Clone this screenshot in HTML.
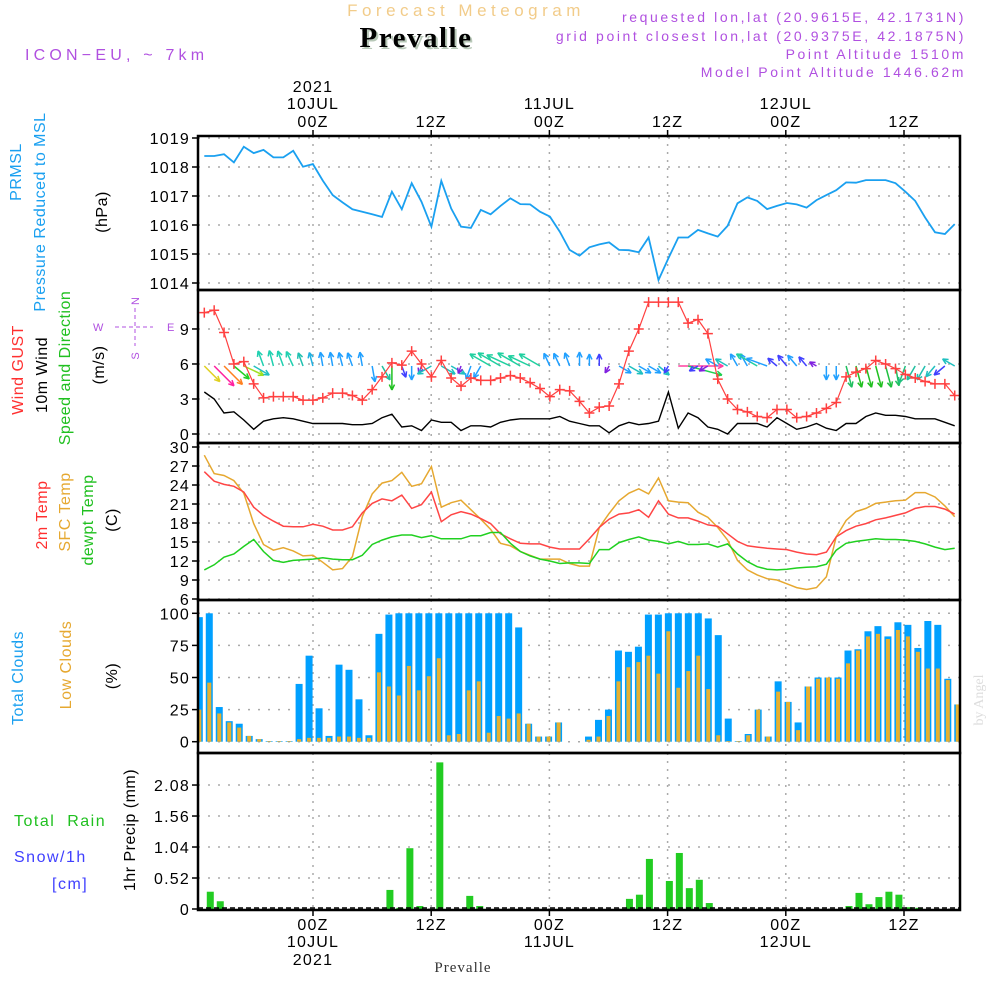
<!DOCTYPE html>
<html><head><meta charset="utf-8">
<style>
html,body{margin:0;padding:0;background:#fff;}
svg{display:block;font-family:"Liberation Sans",sans-serif;}
</style></head>
<body>
<svg id="chart" width="1000" height="1000" viewBox="0 0 1000 1000" xmlns="http://www.w3.org/2000/svg">
<rect width="1000" height="1000" fill="#fff"/>
<text x="466" y="16" text-anchor="middle" font-size="17" fill="#f2cc8a" letter-spacing="4.5">Forecast Meteogram</text>
<text x="418" y="49" text-anchor="middle" font-size="29" font-weight="bold" font-family="Liberation Serif,serif" fill="#b8c8b8" letter-spacing="1.5">Prevalle</text>
<text x="416" y="47" text-anchor="middle" font-size="29" font-weight="bold" font-family="Liberation Serif,serif" fill="#000" letter-spacing="1.5">Prevalle</text>
<text x="25" y="60" font-size="16" fill="#b050e0" letter-spacing="4.2">ICON−EU, ~ 7km</text>
<g font-size="14" fill="#b050e0" text-anchor="end" letter-spacing="2.6">
<text x="966" y="22">requested lon,lat (20.9615E, 42.1731N)</text>
<text x="966" y="41">grid point closest lon,lat (20.9375E, 42.1875N)</text>
<text x="966" y="59">Point Altitude 1510m</text>
<text x="966" y="77">Model Point Altitude 1446.62m</text>
</g>
<g font-size="16" letter-spacing="0.5">
<text transform="translate(21,172) rotate(-90)" text-anchor="middle" fill="#1aa0f0">PRMSL</text>
<text transform="translate(45,212) rotate(-90)" text-anchor="middle" fill="#1aa0f0">Pressure Reduced to MSL</text>
<text transform="translate(107,212) rotate(-90)" text-anchor="middle" fill="#000">(hPa)</text>
<text transform="translate(23,370) rotate(-90)" text-anchor="middle" fill="#ff3030">Wind GUST</text>
<text transform="translate(47,375) rotate(-90)" text-anchor="middle" fill="#000">10m Wind</text>
<text transform="translate(70,368) rotate(-90)" text-anchor="middle" fill="#20c020">Speed and Direction</text>
<text transform="translate(104,365) rotate(-90)" text-anchor="middle" fill="#000">(m/s)</text>
<text transform="translate(47,515) rotate(-90)" text-anchor="middle" fill="#ff3030">2m Temp</text>
<text transform="translate(70,512) rotate(-90)" text-anchor="middle" fill="#e6a830">SFC Temp</text>
<text transform="translate(93,520) rotate(-90)" text-anchor="middle" fill="#20c020">dewpt Temp</text>
<text transform="translate(117,520) rotate(-90)" text-anchor="middle" fill="#000">(C)</text>
<text transform="translate(23,678) rotate(-90)" text-anchor="middle" fill="#1aa0f0">Total Clouds</text>
<text transform="translate(71,665) rotate(-90)" text-anchor="middle" fill="#e6a830">Low Clouds</text>
<text transform="translate(117,676) rotate(-90)" text-anchor="middle" fill="#000">(%)</text>
<text x="14" y="826" fill="#20c020" letter-spacing="1.5" xml:space="preserve">Total  Rain</text>
<text x="14" y="862" fill="#4040ff" letter-spacing="1.5">Snow/1h</text>
<text x="52" y="889" fill="#4040ff" letter-spacing="1.5">[cm]</text>
<text transform="translate(135,830) rotate(-90)" text-anchor="middle" fill="#000">1hr Precip (mm)</text>
</g>
<g font-size="11" fill="#b050e0">
<text x="93" y="331">W</text><text x="167" y="331">E</text>
<text transform="translate(139,301) rotate(-90)" text-anchor="middle">N</text>
<text transform="translate(139,356) rotate(-90)" text-anchor="middle">S</text>
<line x1="115" y1="327" x2="153" y2="327" stroke="#b050e0" stroke-dasharray="4,3"/>
<line x1="135" y1="308" x2="135" y2="346" stroke="#b050e0" stroke-dasharray="4,3"/>
</g>
<text transform="translate(983,700) rotate(-90)" text-anchor="middle" font-size="14" font-family="Liberation Serif,serif" fill="#ddd">by Angel</text>
<text x="463" y="972" text-anchor="middle" font-size="15" font-family="Liberation Serif,serif" fill="#333" letter-spacing="1">Prevalle</text>
<g id="plots"></g>
</svg>
<script>
const NS='http://www.w3.org/2000/svg';
const tickHours=[0,12,24,36,48,60];
const tickHourLabels=['00Z','12Z','00Z','12Z','00Z','12Z'];
const tickDayLabels=['10JUL','','11JUL','','12JUL',''];
const tickYearLabels=['2021','','','','',''];
const pressure=[1018.38,1018.38,1018.44,1018.16,1018.7,1018.48,1018.59,1018.33,1018.33,1018.56,1018.01,1018.1,1017.53,1017.03,1016.78,1016.54,1016.46,1016.37,1016.28,1017.15,1016.54,1017.44,1016.8,1015.94,1017.52,1016.57,1015.94,1015.9,1016.52,1016.37,1016.66,1016.92,1016.72,1016.71,1016.46,1016.29,1015.77,1015.14,1014.94,1015.23,1015.33,1015.4,1015.14,1015.13,1015.06,1015.57,1014.1,1014.85,1015.57,1015.57,1015.83,1015.71,1015.6,1015.97,1016.75,1016.95,1016.83,1016.55,1016.66,1016.76,1016.71,1016.6,1016.86,1017.03,1017.2,1017.47,1017.46,1017.55,1017.55,1017.55,1017.44,1017.15,1016.83,1016.26,1015.75,1015.69,1016.03];
const gust=[10.4,10.6,8.7,6.0,6.2,4.3,3.1,3.2,3.2,3.2,2.9,2.9,3.1,3.5,3.5,3.3,2.9,3.8,4.9,6.1,5.9,7.1,6.0,4.9,6.3,4.8,4.1,4.8,4.6,4.6,4.8,5.0,4.8,4.4,3.9,3.2,3.8,3.7,2.8,1.8,2.3,2.4,4.3,7.1,9.0,11.3,11.3,11.3,11.3,9.5,9.8,8.6,4.7,3.0,2.1,1.9,1.5,1.4,2.1,2.1,1.4,1.5,1.8,2.2,2.7,4.9,5.3,5.6,6.3,6.0,5.6,5.1,4.8,4.5,4.3,4.3,3.3];
const windSpeed=[3.6,3.0,1.8,1.9,1.2,0.4,1.1,1.3,1.4,1.3,1.1,0.9,0.9,0.9,0.9,0.8,0.8,0.9,1.4,1.7,0.6,0.7,0.3,1.2,1.0,1.0,0.3,0.7,0.7,0.6,1.0,1.2,1.3,1.3,1.3,1.3,1.5,1.1,0.9,0.7,0.7,0.1,0.7,1.0,0.8,0.9,1.1,3.6,0.5,1.8,1.4,0.6,0.4,0.0,0.9,0.9,0.9,0.6,1.4,0.9,0.4,0.6,0.9,0.5,0.3,0.9,0.9,1.5,1.8,1.6,1.6,1.5,1.3,1.3,1.3,1.0,0.7];
const windDir=[135,135,135,130,115,120,340,345,340,335,340,345,350,350,345,340,350,170,150,180,160,180,200,240,120,120,200,200,210,300,300,295,300,295,300,335,335,340,0,0,0,210,120,120,120,120,130,210,90,105,240,240,300,300,330,330,300,290,310,320,320,320,300,180,180,165,165,165,165,165,170,200,210,210,220,230,300];
const windLen=[22,28,26,20,22,18,16,16,16,16,14,14,14,14,14,14,14,16,16,24,12,14,8,16,16,16,8,14,14,24,26,26,26,24,24,14,14,14,14,12,12,8,14,16,14,14,14,8,45,35,10,10,14,14,14,14,24,22,12,14,14,12,8,14,14,22,22,22,22,22,20,18,16,16,14,14,14];
const windColor=['#e0d020','#ff20a0','#ff8020','#20d020','#a0e020','#20c0c0','#20d0b0','#20d0b0','#20d0b0','#20d0b0','#20c0b0','#20b0e0','#20a0ff','#20a0ff','#20a0ff','#20a0ff','#20a0ff','#20a0ff','#20c0a0','#20c020','#4040ff','#20a0ff','#8020e0','#20c0c0','#20c0c0','#20c0c0','#8020e0','#20a0ff','#20a0ff','#20d0a0','#20d0a0','#20d0a0','#20d0a0','#20d0a0','#20d0a0','#20a0ff','#20a0ff','#20a0ff','#20a0ff','#20a0ff','#4040ff','#8020e0','#20a0ff','#20c0c0','#20a0ff','#20a0ff','#20c0c0','#4040ff','#ff40a0','#20d050','#4040ff','#8020e0','#20a0ff','#20c0c0','#20a0ff','#20a0ff','#20d0a0','#20a0ff','#4040ff','#4040ff','#20a0ff','#4040ff','#8020e0','#20a0ff','#20a0ff','#20c060','#20c020','#20c020','#20c020','#20c040','#20c060','#20c080','#20c0a0','#20c0b0','#20c0c0','#4040ff','#20c0c0'];
const temp2m=[26.1,24.6,24.1,23.8,22.9,20.5,19.2,18.3,17.5,17.4,17.4,17.8,17.5,16.9,16.9,17.4,19.6,21.1,21.8,21.5,22.4,20.3,20.9,22.9,18.2,19.3,19.8,19.4,18.7,17.9,16.3,15.5,14.8,14.7,14.7,14.2,13.9,13.9,13.9,15.5,17.3,18.6,19.4,19.6,20.1,18.9,21.5,19.4,18.8,18.8,18.3,17.7,17.5,16.3,15.1,14.4,14.2,14.0,13.9,13.8,13.4,13.1,13.0,13.4,15.8,16.8,17.5,17.9,18.5,18.8,19.2,19.6,20.3,20.6,20.6,20.2,19.4];
const tempSfc=[28.7,25.8,25.5,24.7,22.7,17.9,14.6,13.7,14.1,13.6,12.8,12.9,11.8,10.6,10.8,12.7,19.0,22.6,24.3,24.7,26.0,23.8,24.2,26.9,20.5,21.2,21.6,20.1,18.6,17.0,14.8,14.4,13.5,12.9,12.3,12.3,12.3,11.6,11.2,11.2,17.3,19.5,21.5,22.7,23.4,22.6,25.1,21.5,21.3,21.2,19.7,18.9,17.3,15.3,12.1,10.6,9.8,9.2,9.0,8.4,7.8,7.5,7.8,9.5,15.8,18.4,19.8,20.3,21.1,21.3,21.5,21.6,22.8,22.8,22.1,20.7,19.0];
const dewpt=[10.6,11.4,12.6,13.1,14.3,15.4,13.5,12.1,11.8,12.1,12.2,12.3,12.5,12.3,12.2,12.2,12.9,14.6,15.3,15.8,16.1,16.1,15.7,16.0,15.5,15.5,15.5,16.0,16.0,16.5,16.5,14.8,13.5,12.8,12.3,12.0,11.6,11.7,11.7,11.6,13.8,13.8,14.9,15.4,15.8,15.3,15.1,14.7,15.1,14.6,14.6,14.7,14.2,14.7,13.1,11.9,11.1,10.7,10.6,10.7,10.9,11.0,11.1,11.5,13.7,14.8,15.1,15.3,15.5,15.4,15.4,15.3,15.1,14.7,14.2,13.8,14.0];
const totalCloud=[97,100,27,16,14,4.5,2,0.5,0.5,0.5,45,67,26,4.5,60,56,33,5,84,99,100,100,100,100,100,100,100,100,100,100,100,100,89,14,4,4,15,0,0,4,17,25,71,70,74,99,99,100,100,100,100,96,83,18,0.5,6,25,4,47,31,15,43,50,50,50,71,72,86,90,82,93,91,73,94,91,49,29];
const lowCloud=[25,46,22,15,11,4.5,2,0.5,0.5,0.5,2,3,3,3,4,4,3,3,54,43,36,59,40,51,65,5,6,40,47,7,20,18,22,14,4,4,15,0,0,1.5,4,20,47,58,62,67,53,86,42,55,67,41,5,0.5,0.5,5,25,4,39,31,9,43,49,50,49,61,71,82,84,80,87,82,70,57,57,48,29];
const precipIdx=[1,2,19,20,21,22,24,27,28,43,44,45,47,48,49,50,51,65,66,67,68,69,70,71,72];
const precipVal=[0.29,0.13,0.32,0.02,1.02,0.05,2.46,0.22,0.05,0.17,0.24,0.84,0.47,0.94,0.35,0.49,0.10,0.05,0.27,0.08,0.20,0.29,0.24,0.03,0.02];
const pTicks=[1014,1015,1016,1017,1018,1019];
const wTicks=[0,3,6,9];
const tTicks=[6,9,12,15,18,21,24,27,30];
const cTicks=[0,25,50,75,100];
const rTicks=[0,0.52,1.04,1.56,2.08];

const L=198,R=960;
const xT=h=>313+h*9.85;
const xL=i=>204.3+i*9.874;
const xB=i=>199.3+i*9.98;
const yP=v=>138+(1019-v)*29;
const yW=v=>434-v*11.67;
const yT=v=>599-(v-6)*6.333;
const yC=v=>741.7-v*1.284;
const yR=v=>909-v*59.6;
const panels=[[136,290,'pressure'],[290,443,'wind'],[443,600,'temperature'],[600,753,'clouds'],[753,910,'precip']];
const root=document.getElementById('plots');
function mk(tag,at,parent){const e=document.createElementNS(NS,tag);for(const k in at)e.setAttribute(k,at[k]);(parent||root).appendChild(e);return e;}
const defs=mk('defs',{});
panels.forEach((p,k)=>{const c=mk('clipPath',{id:'clip'+k},defs);mk('rect',{x:L,y:p[0],width:R-L,height:p[1]-p[0]},c);});

panels.forEach((p,k)=>{
  const g=mk('g',{});
  
  
  tickHours.forEach(h=>{
    const l=mk('line',{x1:xT(h),x2:xT(h),y1:p[0],y2:p[1],stroke:'#aaa','stroke-width':1.5,'stroke-dasharray':'2,6'},g);
    
    
  });
});
function yAxis(ticks,ys,name,fmt,grid){
  const g=mk('g',{});
  
  
  ticks.forEach(v=>{
    const y=ys(v);
    if(grid){const l=mk('line',{x1:L,x2:R,y1:y,y2:y,stroke:'#aaa','stroke-width':1.5,'stroke-dasharray':'2,8'},g);
      }
    mk('line',{x1:L-6,x2:L,y1:y,y2:y,stroke:'#000','stroke-width':1.5},g);
    const t=mk('text',{x:L-8,y:y+6,'text-anchor':'end','font-size':16,'letter-spacing':1.2,fill:'#000'},g);
    t.textContent=fmt(v);
    
    
  });
}
yAxis(pTicks,yP,'pressure-axis',v=>v,true);
yAxis(wTicks,yW,'wind-axis',v=>v,true);
yAxis(tTicks,yT,'temp-axis',v=>v,true);
yAxis(cTicks,yC,'cloud-axis',v=>v,true);
yAxis(rTicks,yR,'precip-axis',v=>v===0?'0':v.toFixed(2),true);

function line(vals,xs,ys,color,name,k,w){
  const d=vals.map((v,i)=>(i?'L':'M')+xs(i).toFixed(1)+','+ys(v).toFixed(1)).join('');
  const p=mk('path',{d:d,fill:'none',stroke:color,'stroke-width':w||1.6,'clip-path':'url(#clip'+k+')'});
  
  
  return p;
}
line(pressure,xL,yP,'#1aa0f0','pressure-line',0,1.8);
const ag=mk('g',{'clip-path':'url(#clip1)'});


windDir.forEach((dgr,i)=>{
  const a=dgr*Math.PI/180,len=windLen[i];
  const x0=xL(i),y0=366,x1=x0+Math.sin(a)*len,y1=y0-Math.cos(a)*len;
  const c=windColor[i];
  const g=mk('g',{stroke:c,'stroke-width':1.5,fill:'none'},ag);
  
  
  mk('line',{x1:x0,y1:y0,x2:x1,y2:y1},g);
  const h=6;
  [a+Math.PI-0.45,a+Math.PI+0.45].forEach(b=>mk('line',{x1:x1,y1:y1,x2:x1+Math.sin(b)*h,y2:y1-Math.cos(b)*h},g));
});
line(windSpeed,xL,yW,'#000','wind-speed-line',1,1.4);
line(gust,xL,yW,'#ff4040','gust-line',1,1.2);
const gg=mk('g',{stroke:'#ff4040','stroke-width':1.5,'clip-path':'url(#clip1)'});


gust.forEach((v,i)=>{const x=xL(i),y=yW(v);
  const m=mk('path',{d:`M${x-5},${y}H${x+5}M${x},${y-5}V${y+5}`},gg);
  });
line(tempSfc,xL,yT,'#e6a830','sfc-temp-line',2,1.5);
line(temp2m,xL,yT,'#ff4545','temp-2m-line',2,1.5);
line(dewpt,xL,yT,'#20d020','dewpoint-line',2,1.5);
const cg=mk('g',{'clip-path':'url(#clip3)'});


totalCloud.forEach((v,i)=>{
  const x=xB(i);
  const b=mk('rect',{x:x-3.5,y:yC(v),width:7,height:yC(0)-yC(v),fill:'#00a0ff'},cg);
  
  
  const lv=lowCloud[i];
  const o=mk('rect',{x:x-2,y:yC(lv),width:4,height:yC(0)-yC(lv),fill:'#e6b030'},cg);
  
  
});
const rg=mk('g',{'clip-path':'url(#clip4)'});


precipIdx.forEach((i,k)=>{
  const v=precipVal[k],x=xB(i)+1;
  const b=mk('rect',{x:x-3.5,y:yR(v),width:7,height:yR(0)-yR(v),fill:'#22cc22'},rg);
  
  
});
mk('line',{x1:L,x2:R,y1:908,y2:908,stroke:'#000','stroke-width':1.5,'stroke-dasharray':'5,3'});
panels.forEach(p=>{
  const f=mk('rect',{x:L,y:p[0],width:R-L,height:p[1]-p[0],fill:'none',stroke:'#000','stroke-width':2.5});
  
  
});
const tg=mk('g',{'font-size':16,fill:'#000','text-anchor':'middle','letter-spacing':1.2});


tickHours.forEach((h,k)=>{
  const x=xT(h);
  mk('line',{x1:x,x2:x,y1:130,y2:136,stroke:'#000','stroke-width':1.5},tg);
  mk('line',{x1:x,x2:x,y1:910,y2:916,stroke:'#000','stroke-width':1.5},tg);
  [[tickYearLabels[k],92],[tickDayLabels[k],109],[tickHourLabels[k],127],[tickHourLabels[k],930],[tickDayLabels[k],947],[tickYearLabels[k],965]].forEach(([s,y])=>{
    if(!s)return;
    const t=mk('text',{x:x,y:y},tg);
    t.textContent=s;
    
    
  });
});
</script>
</body></html>
